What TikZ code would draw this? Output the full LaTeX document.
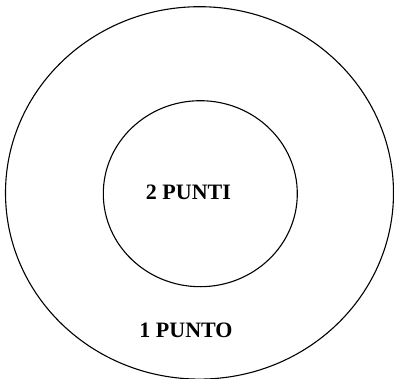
\documentclass[tikz,border=0pt]{standalone}
\usepackage{fontspec}
\setmainfont{Liberation Serif}
\begin{document}
\begin{tikzpicture}[x=1pt,y=1pt,
  ring/.style={draw=black,line width=1.1pt},
  lbl/.style={font=\fontsize{22}{24}\selectfont\bfseries,inner sep=0pt,anchor=base}]
\useasboundingbox (0,0) rectangle (394,-378);
\draw[ring] (199.5,-192.9) ellipse [x radius=194,y radius=186.2];
\draw[ring] (200.3,-193.7) ellipse [x radius=97,y radius=93];
\node[lbl] (inner) at (188.4,-199) {2 PUNTI};
\node[lbl] (outer) at (186,-337) {1 PUNTO};
\end{tikzpicture}
\end{document}
